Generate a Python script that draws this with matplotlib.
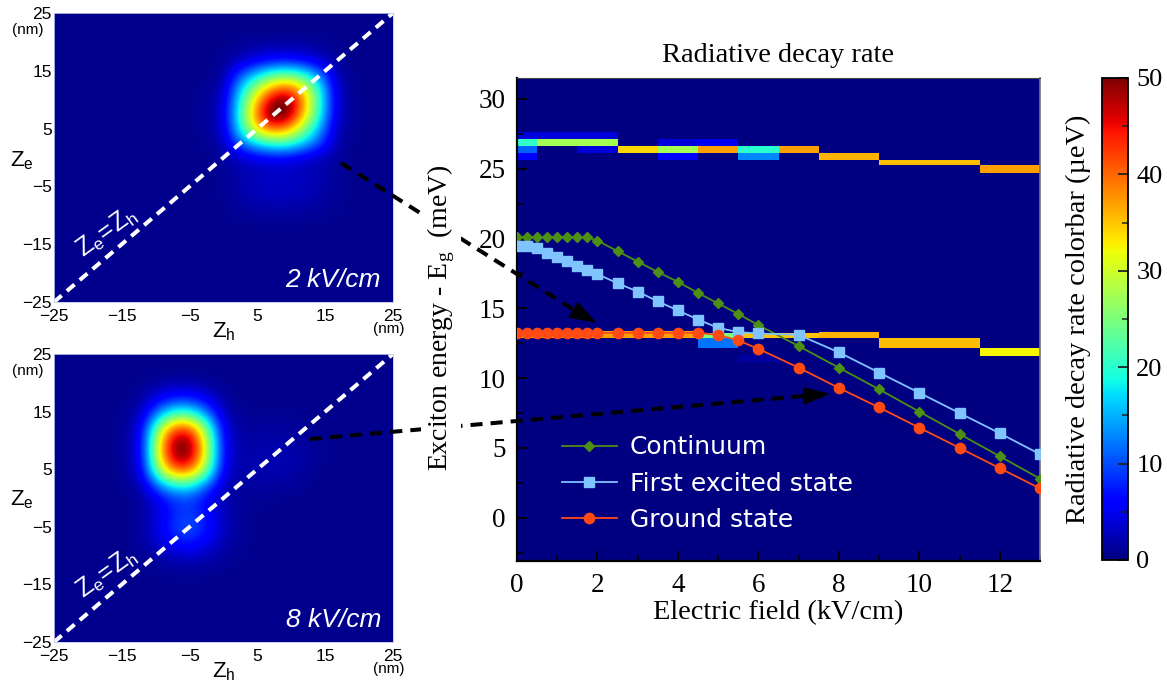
import numpy as np
import matplotlib
matplotlib.use('Agg')
import matplotlib.pyplot as plt
from matplotlib.colors import Normalize
from matplotlib.cm import ScalarMappable
from matplotlib.patches import Polygon
from matplotlib.ticker import MultipleLocator

W, H = 1167, 684

# --- main panel data ---
field = [0, 0.25, 0.5, 0.75, 1, 1.25, 1.5, 1.75, 2, 2.5, 3, 3.5, 4, 4.5, 5, 5.5, 6, 7, 8, 9, 10, 11, 12, 13]
continuum = [20.1, 20.1, 20.1, 20.1, 20.1, 20.1, 20.1, 20.1, 19.85, 19.1, 18.35, 17.6, 16.9, 16.1, 15.35, 14.6,
             13.8, 12.3, 10.75, 9.2, 7.6, 6.0, 4.4, 2.8]
first_excited = [19.45, 19.45, 19.3, 19.0, 18.7, 18.4, 18.0, 17.75, 17.45, 16.8, 16.2, 15.5, 14.85, 14.2, 13.6, 13.3,
                 13.2, 13.1, 11.85, 10.4, 8.95, 7.5, 6.05, 4.55]
ground = [13.25, 13.25, 13.25, 13.25, 13.25, 13.25, 13.25, 13.25, 13.25, 13.25, 13.25, 13.25, 13.25, 13.25, 13.1,
          12.7, 12.1, 10.75, 9.3, 7.9, 6.45, 5.0, 3.55, 2.1]

# radiative decay rate cells: field range, energy range, rate
cell_x0 = [0, 0, 0, 0, 0.5, 0.5, 1.5, 1.5, 1.5, 2.5, 3.5, 3.5, 3.5, 4.5, 4.5, 5.5, 5.5, 6.5, 7.5, 9, 11.5,
           0, 4.5, 4.5, 5.5, 7.5, 9, 11.5, 5.5]
cell_x1 = [0.5, 0.5, 0.5, 0.5, 1.5, 1.5, 2.5, 2.5, 2.5, 3.5, 4.5, 4.5, 4.5, 5.5, 5.5, 6.5, 6.5, 7.5, 9, 11.5, 13,
           4.5, 5.5, 5.5, 7.5, 9, 11.5, 13, 6.5]
cell_y0 = [27.1, 26.6, 26.1, 25.6, 27.1, 26.6, 27.1, 26.6, 26.1, 26.1, 26.6, 26.1, 25.6, 26.6, 26.1, 26.1, 25.6,
           26.1, 25.6, 25.25, 24.7,
           12.85, 12.85, 12.15, 12.85, 12.85, 12.15, 11.6, 11.15]
cell_y1 = [27.6, 27.1, 26.6, 26.1, 27.6, 27.1, 27.6, 27.1, 26.6, 26.6, 27.1, 26.6, 26.1, 27.1, 26.6, 26.6, 26.1,
           26.6, 26.1, 25.6, 25.25,
           13.35, 13.25, 12.85, 13.25, 13.3, 12.85, 12.15, 11.65]
cell_rate = [4, 20.5, 11, 6, 4, 27.5, 4, 27.5, 4, 34, 4, 27.5, 6, 5, 37, 20, 13, 37, 36, 35.5, 37,
             37, 25, 12, 35, 36, 35.5, 32.5, 1.5]

# --- left panels: rate on a 2.5 nm grid, rows from Ze = 25 down to Ze = -25 ---
grid_nm = [-25, 25]
map_2kv = [
    [0]*21,
    [0]*21,
    [0, 0, 0, 0, 0, 0, 0, 0, 0, 0, .1, .5, 1, 1.4, 1.5, 1.2, .7, .1, 0, 0, 0],
    [0, 0, 0, 0, 0, 0, 0, 0, 0, 0, .3, 2.2, 4.5, 6.2, 6.6, 5.5, 3, .6, 0, 0, 0],
    [0, 0, 0, 0, 0, 0, 0, 0, 0, 0, .6, 9, 16, 22, 24, 20, 12, 1.6, 0, 0, 0],
    [0, 0, 0, 0, 0, 0, 0, 0, 0, .3, 1.6, 15, 27, 38, 42, 33, 18, 2.4, .1, 0, 0],
    [0, 0, 0, 0, 0, 0, 0, 0, 0, .6, 2.4, 18, 35, 50, 53, 37, 19, 2.8, .3, 0, 0],
    [0, 0, 0, 0, 0, 0, 0, 0, 0, .7, 2.9, 19, 38, 53, 50, 34, 18, 2.5, .3, 0, 0],
    [0, 0, 0, 0, 0, 0, 0, 0, 0, .5, 2.5, 17, 32, 39, 36, 25, 13, 1.8, .2, 0, 0],
    [0, 0, 0, 0, 0, 0, 0, 0, 0, .1, 1.5, 10, 16, 20, 20, 15, 9, 1, .1, 0, 0],
    [0, 0, 0, 0, 0, 0, 0, 0, 0, 0, .6, 2.4, 4, 5, 4.8, 3.4, 1.8, .6, 0, 0, 0],
    [0, 0, 0, 0, 0, 0, 0, 0, 0, 0, .3, 1.2, 2, 2.2, 2.2, 1.9, 1.4, .5, 0, 0, 0],
    [0, 0, 0, 0, 0, 0, 0, 0, 0, 0, .2, 1.3, 2.2, 2.6, 2.6, 2.2, 1.5, .5, 0, 0, 0],
    [0, 0, 0, 0, 0, 0, 0, 0, 0, 0, .1, 1, 1.7, 2, 2, 1.7, 1.2, .3, 0, 0, 0],
    [0, 0, 0, 0, 0, 0, 0, 0, 0, 0, 0, .4, .7, .8, .8, .7, .4, .1, 0, 0, 0],
    [0]*21,
    [0]*21,
    [0]*21,
    [0]*21,
    [0]*21,
    [0]*21,
]
map_8kv = [
    [0]*21,
    [0]*21,
    [0, 0, 0, 0, 0, .2, 1.6, 2.6, 2.6, 1.4, .2, 0, 0, 0, 0, 0, 0, 0, 0, 0, 0],
    [0, 0, 0, 0, .1, 1.2, 6, 9.5, 9.3, 5.5, 1, .1, 0, 0, 0, 0, 0, 0, 0, 0, 0],
    [0, 0, 0, 0, .2, 3, 15, 24, 23.5, 13.5, 2.4, .3, .2, .2, .2, 0, 0, 0, 0, 0, 0],
    [0, 0, 0, 0, .4, 5, 27, 43, 42, 24, 4, .7, .7, .8, .7, .4, 0, 0, 0, 0, 0],
    [0, 0, 0, 0, .5, 5.5, 32, 51, 50, 28, 4.8, 1, 1.2, 1.3, 1.2, .8, .2, 0, 0, 0, 0],
    [0, 0, 0, 0, .5, 5.5, 32, 50, 49, 28, 4.8, 1.1, 1.4, 1.6, 1.5, .9, .2, 0, 0, 0, 0],
    [0, 0, 0, 0, .4, 4.6, 26, 40, 39, 23, 4, 1, 1.4, 1.6, 1.4, .7, 0, 0, 0, 0, 0],
    [0, 0, 0, 0, .2, 2.4, 13, 20, 19.5, 11.5, 2.2, .7, .9, 1, .7, .2, 0, 0, 0, 0, 0],
    [0, 0, 0, 0, 0, .8, 4.8, 8.8, 9.2, 5, 1.2, .4, .3, .2, 0, 0, 0, 0, 0, 0, 0],
    [0, 0, 0, 0, 0, .8, 3.5, 7.5, 8.5, 5.5, 2, .6, 0, 0, 0, 0, 0, 0, 0, 0, 0],
    [0, 0, 0, 0, 0, 1, 4, 8.5, 10, 6.5, 2.2, .5, 0, 0, 0, 0, 0, 0, 0, 0, 0],
    [0, 0, 0, 0, 0, .8, 3.5, 7, 8, 5, 1.8, .4, 0, 0, 0, 0, 0, 0, 0, 0, 0],
    [0, 0, 0, 0, 0, .4, 1.5, 3, 3.5, 2.2, .8, .2, 0, 0, 0, 0, 0, 0, 0, 0, 0],
    [0, 0, 0, 0, 0, .1, .4, .8, .9, .6, .2, 0, 0, 0, 0, 0, 0, 0, 0, 0, 0],
    [0]*21,
    [0]*21,
    [0]*21,
    [0]*21,
    [0]*21,
]
map_ticks = [-25, -15, -5, 5, 15, 25]

plt.rcParams['font.family'] = ['Liberation Serif', 'DejaVu Sans']
plt.rcParams['axes.unicode_minus'] = True

fig = plt.figure(figsize=(W / 100, H / 100), dpi=100, facecolor='white')


def px_axes(left, top, right, bottom):
    return fig.add_axes([left / W, 1 - bottom / H, (right - left) / W, (bottom - top) / H])


def px_text(px, py, s, **kw):
    return fig.text(px / W, 1 - py / H, s, **kw)


def draw_map(top, bottom, values, label, z_y):
    ax = px_axes(54, top, 393, bottom)
    ax.imshow(values, cmap='jet', vmin=-0.7, vmax=50, extent=grid_nm * 2,
              interpolation='bicubic', aspect='auto')
    ax.set_xticks(map_ticks)
    ax.set_yticks(map_ticks)
    ax.tick_params(axis='y', length=0, labelsize=12.5, pad=1.5)
    ax.tick_params(axis='x', length=0, labelsize=12.5, pad=5)
    for t in ax.get_xticklabels() + ax.get_yticklabels():
        t.set_family('Liberation Sans')
    for sp in ax.spines.values():
        sp.set_color('#c0c8e8')
        sp.set_linewidth(0.6)
    ax.plot([-25, 25], [-25, 25], color='white', lw=2.9, dashes=(2.5, 1.7), clip_on=False)
    ax.text(0.965, 0.035, label, transform=ax.transAxes, color='white', fontsize=19,
            style='italic', family='Liberation Sans', ha='right', va='bottom')
    ax.text(-17.2, -13, r'$\mathregular{Z_e\!=\!Z_h}$', color='white', fontsize=18, rotation=36,
            family='Liberation Sans', ha='center', va='center', rotation_mode='anchor')
    px_text(28, top + 17, '(nm)', fontsize=11, family='Liberation Sans', ha='center', va='center')
    px_text(389, bottom + 27, '(nm)', fontsize=11, family='Liberation Sans', ha='center', va='center')
    px_text(22, z_y, r'$\mathregular{Z_e}$', fontsize=16, family='Liberation Sans', ha='center', va='center')
    px_text(224, bottom + 30, r'$\mathregular{Z_h}$', fontsize=16, family='Liberation Sans', ha='center', va='center')
    return ax


draw_map(13, 302, map_2kv, '2 kV/cm', 161)
draw_map(354, 642, map_8kv, '8 kV/cm', 500)

# --- main panel ---
norm = Normalize(0, 50)
ax = px_axes(517, 77.5, 1040, 561)
ax.set_facecolor(plt.get_cmap('jet')(0.0))
for x0, x1, y0, y1, v in zip(cell_x0, cell_x1, cell_y0, cell_y1, cell_rate):
    ax.pcolormesh([x0, x1], [y0, y1], [[v]], cmap='jet', norm=norm)
ax.plot(field, continuum, '-D', color='#4c8f14', lw=1.3, ms=5.2, label='Continuum', zorder=3)
ax.plot(field, first_excited, '-s', color='#80c4ff', lw=1.3, ms=7.6, label='First excited state', zorder=4)
ax.plot(field, ground, '-o', color='#ff4a14', lw=1.3, ms=7.4, label='Ground state', zorder=5)
ax.set_xlim(0, 13)
ax.set_ylim(-3.1, 31.54)
ax.set_xticks(range(0, 13, 2))
ax.set_yticks(range(0, 31, 5))
ax.xaxis.set_minor_locator(MultipleLocator(1))
ax.yaxis.set_minor_locator(MultipleLocator(2.5))
ax.tick_params(which='major', direction='in', length=7.5, width=1.3, color='black', labelsize=19.5, pad=8)
ax.tick_params(axis='x', which='major', pad=9)
ax.tick_params(which='minor', direction='in', length=4.5, width=1.1, color='black')
ax.spines['left'].set_linewidth(1.6)
ax.spines['bottom'].set_linewidth(1.6)
ax.spines['top'].set_color('#444444')
ax.spines['right'].set_color('#777777')
ax.spines['right'].set_linewidth(1.2)
leg = ax.legend(loc='lower left', bbox_to_anchor=(0.086, 0.06), frameon=False,
                labelcolor='white', prop={'family': 'DejaVu Sans', 'size': 18}, labelspacing=0.49,
                handlelength=2.2, handletextpad=0.52, borderpad=0, borderaxespad=0)
px_text(778, 55, 'Radiative decay rate', fontsize=20.4, ha='center', va='center')
px_text(778, 613, 'Electric field (kV/cm)', fontsize=20.4, ha='center', va='center')

# --- colorbar ---
cax = px_axes(1102, 78, 1128, 560)
cb = fig.colorbar(ScalarMappable(norm=norm, cmap='jet'), cax=cax)
cb.set_ticks(range(0, 51, 10))
cb.ax.yaxis.set_minor_locator(MultipleLocator(5))
cb.ax.tick_params(which='major', direction='in', length=7, width=1.3, labelsize=19, pad=6, color='#222222')
cb.ax.tick_params(which='minor', direction='in', length=4, width=1.1, color='#222222')
cb.outline.set_linewidth(1.3)
px_text(1078, 319, 'Radiative decay rate colorbar (\u00b5eV)', fontsize=20.4, ha='center', va='center', rotation=90)

# --- black dashed arrows across the panels, in figure pixels ---
over = fig.add_axes([0, 0, 1, 1], facecolor='none', zorder=10)
over.set_xlim(0, W)
over.set_ylim(H, 0)
over.axis('off')
over.plot([341, 574], [163, 310], color='black', lw=2.9, dashes=(3.0, 2.0))
over.add_patch(Polygon([(595, 322), (578, 303), (569, 317)], color='black'))
over.plot([310, 804], [439, 396], color='black', lw=2.9, dashes=(3.0, 2.0))
over.add_patch(Polygon([(828, 394), (804, 388), (804, 404)], color='black'))
# the label box hides the arrows where they cross it
over.text(441, 318, r'Exciton energy - E$\mathregular{_g}$  (meV)', fontsize=20, ha='center', va='center',
          rotation=90, bbox=dict(facecolor='white', edgecolor='none', pad=3))

fig.savefig('out.png', dpi=100)
